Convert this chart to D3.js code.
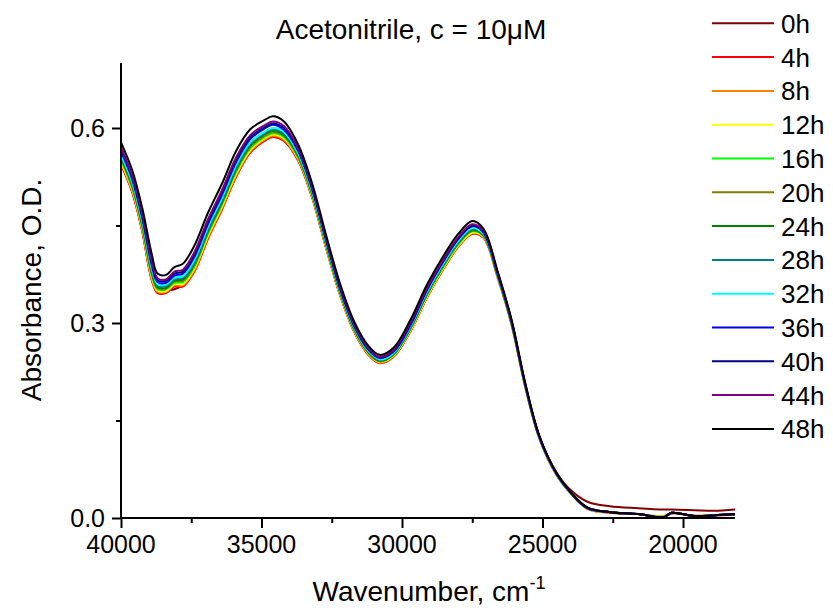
<!DOCTYPE html>
<html>
<head>
<meta charset="utf-8">
<script src="https://cdn.jsdelivr.net/npm/d3@7"></script>
<style>
  body { margin: 0; background: #fff; }
  svg text { font-family: "Liberation Sans", Arial, sans-serif; fill: #000; }
</style>
</head>
<body>
<svg width="833" height="611"></svg>
<script>
// Wavenumber grid, cm-1
const wavenumbers = [40000, 39600, 39250, 38900, 38700, 38400, 38100, 37800, 37400, 36900,
  36400, 35900, 35400, 34900, 34600, 34200, 33700, 33200, 32700, 32200,
  31700, 31200, 30800, 30300, 29700, 29100, 28500, 28000, 27500, 27100,
  26600, 26100, 25600, 25100, 24500, 24000, 23400, 22600, 21600, 20700,
  20400, 19600, 18900, 18150];

const seriesNames = ["0h", "4h", "8h", "12h", "16h", "20h", "24h", "28h", "32h", "36h", "40h", "44h", "48h"];
const seriesColors = ["#800000", "#ff0000", "#ff8000", "#ffff00", "#00ff00", "#808000", "#008000",
  "#008080", "#00ffff", "#0000ff", "#000080", "#800080", "#000000"];

// Absorbance, O.D.
const abs0h = [0.545, 0.502, 0.443, 0.366, 0.349, 0.350, 0.352, 0.358, 0.380, 0.432,
  0.477, 0.527, 0.563, 0.581, 0.587, 0.581, 0.551, 0.494, 0.416, 0.343,
  0.287, 0.252, 0.239, 0.249, 0.288, 0.341, 0.386, 0.418, 0.439, 0.433,
  0.372, 0.299, 0.202, 0.124, 0.070, 0.043, 0.025, 0.018, 0.015, 0.013,
  0.013, 0.012, 0.011, 0.013];
const abs4h = [0.544, 0.501, 0.442, 0.365, 0.346, 0.346, 0.356, 0.356, 0.378, 0.430,
  0.475, 0.525, 0.562, 0.580, 0.586, 0.580, 0.550, 0.493, 0.415, 0.342,
  0.286, 0.251, 0.238, 0.248, 0.287, 0.340, 0.385, 0.417, 0.437, 0.431,
  0.370, 0.297, 0.199, 0.121, 0.066, 0.038, 0.014, 0.008, 0.006, 0.002,
  0.007, 0.003, 0.004, 0.005];
const abs8h = [0.546, 0.503, 0.444, 0.367, 0.348, 0.348, 0.358, 0.358, 0.380, 0.432,
  0.477, 0.527, 0.564, 0.582, 0.588, 0.582, 0.552, 0.494, 0.416, 0.343,
  0.287, 0.252, 0.239, 0.249, 0.288, 0.341, 0.386, 0.418, 0.438, 0.432,
  0.371, 0.298, 0.199, 0.121, 0.066, 0.038, 0.014, 0.008, 0.006, 0.003,
  0.007, 0.004, 0.004, 0.006];
const abs12h = [0.548, 0.505, 0.446, 0.370, 0.350, 0.349, 0.360, 0.360, 0.383, 0.435,
  0.480, 0.530, 0.566, 0.584, 0.590, 0.584, 0.553, 0.496, 0.417, 0.344,
  0.288, 0.253, 0.240, 0.250, 0.289, 0.342, 0.387, 0.419, 0.439, 0.433,
  0.371, 0.298, 0.200, 0.121, 0.066, 0.038, 0.014, 0.009, 0.006, 0.002,
  0.008, 0.003, 0.004, 0.006];
const abs16h = [0.551, 0.508, 0.449, 0.373, 0.352, 0.352, 0.362, 0.363, 0.386, 0.438,
  0.483, 0.533, 0.569, 0.586, 0.592, 0.586, 0.555, 0.497, 0.419, 0.346,
  0.289, 0.254, 0.241, 0.251, 0.291, 0.344, 0.389, 0.421, 0.441, 0.434,
  0.372, 0.299, 0.200, 0.122, 0.067, 0.038, 0.015, 0.009, 0.006, 0.002,
  0.008, 0.003, 0.004, 0.006];
const abs20h = [0.553, 0.510, 0.451, 0.375, 0.354, 0.353, 0.364, 0.365, 0.388, 0.440,
  0.485, 0.535, 0.571, 0.588, 0.594, 0.588, 0.556, 0.499, 0.420, 0.347,
  0.290, 0.255, 0.241, 0.252, 0.292, 0.345, 0.390, 0.422, 0.442, 0.435,
  0.373, 0.299, 0.201, 0.122, 0.067, 0.039, 0.015, 0.009, 0.006, 0.001,
  0.008, 0.003, 0.004, 0.006];
const abs24h = [0.554, 0.511, 0.453, 0.377, 0.355, 0.354, 0.365, 0.367, 0.390, 0.442,
  0.487, 0.537, 0.573, 0.590, 0.596, 0.589, 0.558, 0.500, 0.421, 0.347,
  0.291, 0.255, 0.242, 0.252, 0.292, 0.346, 0.391, 0.423, 0.443, 0.435,
  0.373, 0.299, 0.201, 0.122, 0.067, 0.039, 0.015, 0.009, 0.006, 0.001,
  0.008, 0.003, 0.004, 0.006];
const abs28h = [0.557, 0.514, 0.456, 0.380, 0.357, 0.357, 0.367, 0.369, 0.393, 0.445,
  0.490, 0.540, 0.576, 0.592, 0.598, 0.591, 0.560, 0.501, 0.423, 0.349,
  0.292, 0.256, 0.243, 0.253, 0.294, 0.348, 0.393, 0.425, 0.445, 0.436,
  0.374, 0.300, 0.201, 0.123, 0.067, 0.039, 0.015, 0.009, 0.006, 0.001,
  0.008, 0.003, 0.004, 0.006];
const abs32h = [0.559, 0.516, 0.458, 0.383, 0.360, 0.359, 0.370, 0.372, 0.396, 0.448,
  0.493, 0.543, 0.578, 0.594, 0.600, 0.594, 0.561, 0.503, 0.424, 0.350,
  0.293, 0.257, 0.244, 0.254, 0.295, 0.349, 0.394, 0.426, 0.446, 0.437,
  0.375, 0.301, 0.202, 0.123, 0.067, 0.039, 0.015, 0.009, 0.006, 0.001,
  0.008, 0.003, 0.004, 0.006];
const abs36h = [0.564, 0.521, 0.463, 0.388, 0.363, 0.362, 0.373, 0.376, 0.401, 0.453,
  0.498, 0.548, 0.583, 0.599, 0.605, 0.597, 0.565, 0.506, 0.427, 0.352,
  0.295, 0.259, 0.246, 0.256, 0.297, 0.352, 0.397, 0.429, 0.449, 0.439,
  0.376, 0.302, 0.202, 0.123, 0.068, 0.039, 0.015, 0.009, 0.006, 0.001,
  0.008, 0.003, 0.004, 0.006];
const abs40h = [0.567, 0.524, 0.466, 0.392, 0.366, 0.365, 0.376, 0.379, 0.405, 0.457,
  0.502, 0.552, 0.586, 0.601, 0.607, 0.600, 0.567, 0.508, 0.428, 0.354,
  0.297, 0.260, 0.247, 0.257, 0.299, 0.353, 0.398, 0.430, 0.450, 0.440,
  0.377, 0.302, 0.203, 0.124, 0.068, 0.039, 0.016, 0.009, 0.006, 0.001,
  0.008, 0.003, 0.004, 0.006];
const abs44h = [0.570, 0.527, 0.469, 0.395, 0.369, 0.367, 0.379, 0.382, 0.408, 0.460,
  0.505, 0.555, 0.589, 0.604, 0.610, 0.603, 0.569, 0.510, 0.430, 0.356,
  0.298, 0.262, 0.248, 0.259, 0.301, 0.355, 0.400, 0.432, 0.452, 0.442,
  0.378, 0.303, 0.204, 0.124, 0.068, 0.040, 0.016, 0.009, 0.006, 0.001,
  0.008, 0.003, 0.004, 0.006];
const abs48h = [0.578, 0.535, 0.478, 0.405, 0.376, 0.374, 0.386, 0.391, 0.418, 0.470,
  0.515, 0.565, 0.598, 0.612, 0.618, 0.610, 0.575, 0.515, 0.435, 0.360,
  0.302, 0.265, 0.251, 0.262, 0.305, 0.360, 0.405, 0.437, 0.457, 0.445,
  0.380, 0.305, 0.205, 0.125, 0.069, 0.040, 0.016, 0.009, 0.006, 0.001,
  0.008, 0.003, 0.004, 0.006];

const seriesValues = [abs0h, abs4h, abs8h, abs12h, abs16h, abs20h, abs24h, abs28h,
  abs32h, abs36h, abs40h, abs44h, abs48h];

const xTicks = [40000, 35000, 30000, 25000, 20000];
const yTicks = [0.0, 0.3, 0.6];

const svg = d3.select("svg");
const plotLeft = 121, plotRight = 735, plotTop = 63, plotBottom = 518;

const x = d3.scaleLinear().domain([40000, 18150]).range([plotLeft, plotRight]);
const y = d3.scaleLinear().domain([0, 0.7]).range([plotBottom, plotTop]);

// curves, first series drawn first, 48h on top
const line = d3.line().x(d => x(d[0])).y(d => y(d[1])).curve(d3.curveCatmullRom);
seriesValues.forEach((vals, i) => {
  svg.append("path")
    .datum(wavenumbers.map((w, j) => [w, vals[j]]))
    .attr("fill", "none")
    .attr("stroke", seriesColors[i])
    .attr("stroke-width", 2)
    .attr("stroke-linejoin", "round")
    .attr("d", line);
});

// axes
const xAxis = svg.append("g").attr("transform", `translate(0,${plotBottom})`);
xAxis.call(d3.axisBottom(x).tickValues(d3.range(40000, 18000, -2500)).tickSize(5).tickFormat(""));
xAxis.call(g => g.selectAll(".tick").filter(d => xTicks.includes(d)).select("line").attr("y2", 10));
xAxis.select(".domain").attr("d", `M${plotLeft},0H${plotRight}`);

const yAxis = svg.append("g").attr("transform", `translate(${plotLeft},0)`);
yAxis.call(d3.axisLeft(y).tickValues([0, 0.15, 0.3, 0.45, 0.6]).tickSize(5).tickFormat(""));
yAxis.call(g => g.selectAll(".tick").filter(d => yTicks.includes(d)).select("line").attr("x2", -9));
yAxis.select(".domain").attr("d", `M0,${plotTop}V${plotBottom}`);

svg.selectAll(".domain, .tick line").attr("stroke", "#000").attr("stroke-width", 2);

svg.append("g").selectAll("text").data(xTicks).join("text")
  .attr("x", d => x(d)).attr("y", 553)
  .attr("text-anchor", "middle").attr("font-size", 25)
  .text(d => d);

svg.append("g").selectAll("text").data(yTicks).join("text")
  .attr("x", 105).attr("y", d => y(d) + 9)
  .attr("text-anchor", "end").attr("font-size", 25)
  .text(d => d.toFixed(1));

// titles
svg.append("text").attr("x", 411).attr("y", 39).attr("text-anchor", "middle")
  .attr("font-size", 28).text("Acetonitrile, c = 10\u03bcM");

svg.append("text").attr("transform", "translate(41,290) rotate(-90)")
  .attr("text-anchor", "middle").attr("font-size", 28).text("Absorbance, O.D.");

const xl = svg.append("text").attr("x", 429).attr("y", 601).attr("text-anchor", "middle").attr("font-size", 28);
xl.append("tspan").text("Wavenumber, cm");
xl.append("tspan").attr("dy", -12).attr("font-size", 18).text("-1");

// legend
const legend = svg.append("g").selectAll("g").data(seriesNames).join("g")
  .attr("transform", (d, i) => `translate(0,${23.3 + i * 33.8})`);
legend.append("line").attr("x1", 712).attr("x2", 774)
  .attr("stroke", (d, i) => seriesColors[i]).attr("stroke-width", 2);
legend.append("text").attr("x", 781).attr("y", 9.5).attr("font-size", 26).text(d => d);
</script>
</body>
</html>
